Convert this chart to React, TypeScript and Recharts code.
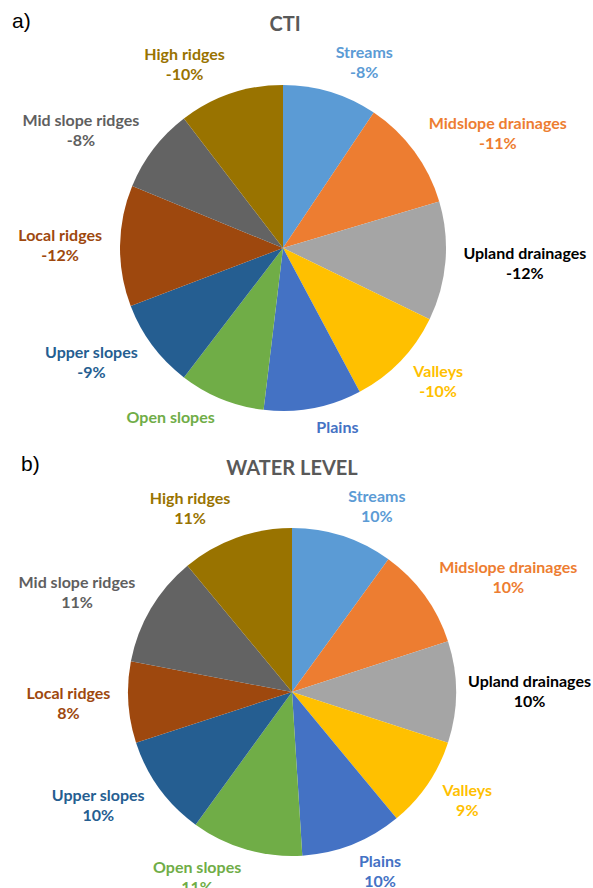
import { PieChart, Pie, Cell } from 'recharts';

// landform classes, clockwise from 12 o'clock
const landforms = [
  'Streams',
  'Midslope drainages',
  'Upland drainages',
  'Valleys',
  'Plains',
  'Open slopes',
  'Upper slopes',
  'Local ridges',
  'Mid slope ridges',
  'High ridges',
];

// a) CTI - slice shares, printed percentages as labelled
const ctiShare = [9.4, 11, 11.8, 10, 9.7, 8.5, 8.8, 12, 8.4, 10.4];
const ctiPercent: (number | null)[] = [-8, -11, -12, -10, null, null, -9, -12, -8, -10];

// b) WATER LEVEL
const waterShare = [10, 10, 10, 9, 10, 11, 10, 8, 11, 11];

const sliceColors = [
  '#5B9BD5',
  '#ED7D31',
  '#A5A5A5',
  '#FFC000',
  '#4472C4',
  '#70AD47',
  '#255E91',
  '#9E480E',
  '#636363',
  '#997300',
];
const labelColors = [
  '#5B9BD5',
  '#ED7D31',
  '#000000',
  '#FFC000',
  '#4472C4',
  '#70AD47',
  '#255E91',
  '#9E480E',
  '#5f5f5f',
  '#997300',
];

const FONT = 'Lato, "Open Sans", sans-serif';
const FS = 16;
const LINE = 20;
const CHART_W = 593;

const ctx = typeof document !== 'undefined' ? document.createElement('canvas').getContext('2d') : null;
function textWidth(s: string) {
  if (ctx) {
    ctx.font = `bold ${FS}px Lato`;
    return ctx.measureText(s).width;
  }
  return s.length * 8.4;
}

// excel-ish "best fit" outside labels: inner edge of the text box sits just outside the rim
function makeLabel(pcts: (number | null)[]) {
  return (props: any) => {
    const { cx, cy, midAngle, outerRadius, index } = props;
    const rad = (midAngle * Math.PI) / 180;
    const ux = Math.cos(rad);
    const uy = -Math.sin(rad);
    const px = cx + (outerRadius + 18) * ux;
    const py = cy + (outerRadius + 10) * uy;
    const name = landforms[index];
    const pct = pcts[index];
    const lines = pct == null ? 1 : 2;
    const w = textWidth(name);
    const h = lines * LINE;
    // keep the box inside the chart like excel does
    const x = Math.min(px + (Math.sign(ux) * w) / 2, CHART_W - 2 - w / 2);
    const top = py + (uy * h) / 2 - h / 2;
    return (
      <text
        x={x}
        y={top}
        textAnchor="middle"
        fill={labelColors[index]}
        fontFamily={FONT}
        fontWeight={700}
        fontSize={FS}
      >
        <tspan x={x} y={top + 15}>
          {name}
        </tspan>
        {pct != null && (
          <tspan x={x} y={top + 15 + LINE}>
            {`${pct}%`}
          </tspan>
        )}
      </text>
    );
  };
}

const ctiData = landforms.map((name, i) => ({ name, value: ctiShare[i] }));
const waterData = landforms.map((name, i) => ({ name, value: waterShare[i] }));
const waterPercent = waterShare.map((v) => Math.round(v));

const titleStyle: React.CSSProperties = {
  position: 'absolute',
  fontFamily: FONT,
  fontWeight: 700,
  fontSize: 20,
  color: '#595959',
  transform: 'translateX(-50%)',
  whiteSpace: 'nowrap',
  lineHeight: '24px',
};
const tagStyle: React.CSSProperties = {
  position: 'absolute',
  fontFamily: '"Liberation Sans", Arial, sans-serif',
  fontSize: 21,
  color: '#000',
  lineHeight: '24px',
};

const noMargin = { top: 0, right: 0, bottom: 0, left: 0 };

export default function App() {
  return (
    <div style={{ position: 'absolute', left: 0, top: 0, width: 593, height: 888, background: '#fff', overflow: 'hidden' }}>
      <div style={{ position: 'absolute', left: 0, top: 0 }}>
        <PieChart width={CHART_W} height={440} margin={noMargin}>
          <Pie
            data={ctiData}
            dataKey="value"
            cx={283}
            cy={248}
            outerRadius={163}
            startAngle={90}
            endAngle={-270}
            stroke="none"
            labelLine={false}
            label={makeLabel(ctiPercent)}
            isAnimationActive={false}
          >
            {ctiData.map((d, i) => (
              <Cell key={d.name} fill={sliceColors[i]} />
            ))}
          </Pie>
        </PieChart>
      </div>
      <div style={{ position: 'absolute', left: 0, top: 440 }}>
        <PieChart width={CHART_W} height={448} margin={noMargin}>
          <Pie
            data={waterData}
            dataKey="value"
            cx={292}
            cy={252}
            outerRadius={164}
            startAngle={90}
            endAngle={-270}
            stroke="none"
            labelLine={false}
            label={makeLabel(waterPercent)}
            isAnimationActive={false}
          >
            {waterData.map((d, i) => (
              <Cell key={d.name} fill={sliceColors[i]} />
            ))}
          </Pie>
        </PieChart>
      </div>
      <div style={{ ...tagStyle, left: 12, top: 9 }}>a)</div>
      <div style={{ ...titleStyle, left: 285, top: 11 }}>CTI</div>
      <div style={{ ...tagStyle, left: 21, top: 452 }}>b)</div>
      <div style={{ ...titleStyle, left: 292, top: 455 }}>WATER LEVEL</div>
    </div>
  );
}
